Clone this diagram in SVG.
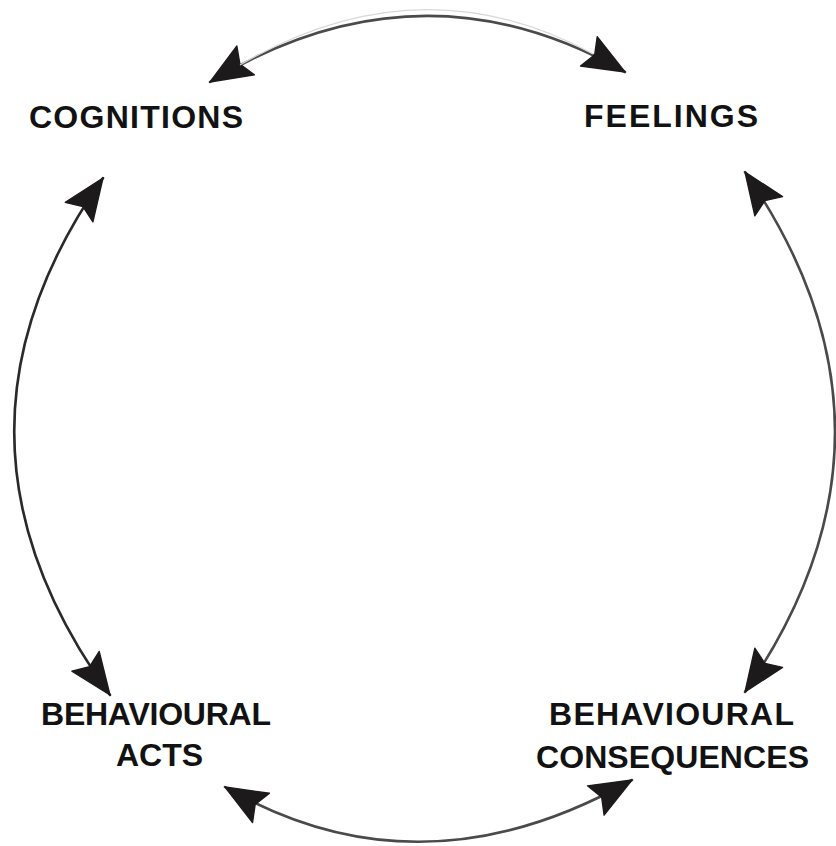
<svg xmlns="http://www.w3.org/2000/svg" width="836" height="846" viewBox="0 0 836 846">
  <style>
    .label { font-family: "Liberation Sans", Arial, sans-serif; font-weight: bold; font-size: 32px; fill: #121212; }
    .arc { fill: none; stroke: #2a2a2a; stroke-width: 2.6; stroke-linecap: round; }
    .arc-grey { stroke: #4a4a4a; }
    .tube-core { fill: none; stroke: #d8d8d8; stroke-width: 1.2; }
  </style>
  <defs>
    <marker id="head" markerUnits="userSpaceOnUse" markerWidth="44" markerHeight="36" viewBox="0 -16 38 32" refX="37" refY="0" orient="auto-start-reverse" overflow="visible">
      <path d="M0,-15 L37,0 L0,15 L6,0 Z" fill="#1c1a1a" stroke="#1c1a1a" stroke-width="1.2" stroke-linejoin="round"/>
    </marker>
  </defs>

  <rect width="836" height="846" fill="#ffffff"/>

  <g id="connectors">
    <!-- cognitions <-> feelings -->
    <path class="arc arc-grey" d="M210,82 Q420,-45 625,72" stroke-width="4" marker-start="url(#head)" marker-end="url(#head)"/>
    <path class="tube-core" d="M240,65 Q420,-40 593,54"/>
    <!-- feelings <-> behavioural consequences -->
    <path class="arc arc-grey" d="M745,172 Q925,432 745,692" marker-start="url(#head)" marker-end="url(#head)"/>
    <!-- behavioural consequences <-> behavioural acts -->
    <path class="arc arc-grey" d="M225,787 Q420,900 632,780" marker-start="url(#head)" marker-end="url(#head)"/>
    <!-- behavioural acts <-> cognitions -->
    <path class="arc" d="M103,178 Q-78,436 110,695" marker-start="url(#head)" marker-end="url(#head)"/>
  </g>

  <g id="cognitions">
    <text class="label" x="29" y="128" textLength="214" lengthAdjust="spacing">COGNITIONS</text>
  </g>
  <g id="feelings">
    <text class="label" x="584" y="127" textLength="174" lengthAdjust="spacing">FEELINGS</text>
  </g>
  <g id="behavioural-acts">
    <text class="label" x="41" y="725" textLength="230" lengthAdjust="spacing">BEHAVIOURAL</text>
    <text class="label" x="116" y="766" textLength="87" lengthAdjust="spacing">ACTS</text>
  </g>
  <g id="behavioural-consequences">
    <text class="label" x="549" y="725" textLength="245" lengthAdjust="spacing">BEHAVIOURAL</text>
    <text class="label" x="536" y="768" textLength="273" lengthAdjust="spacing">CONSEQUENCES</text>
  </g>
</svg>
